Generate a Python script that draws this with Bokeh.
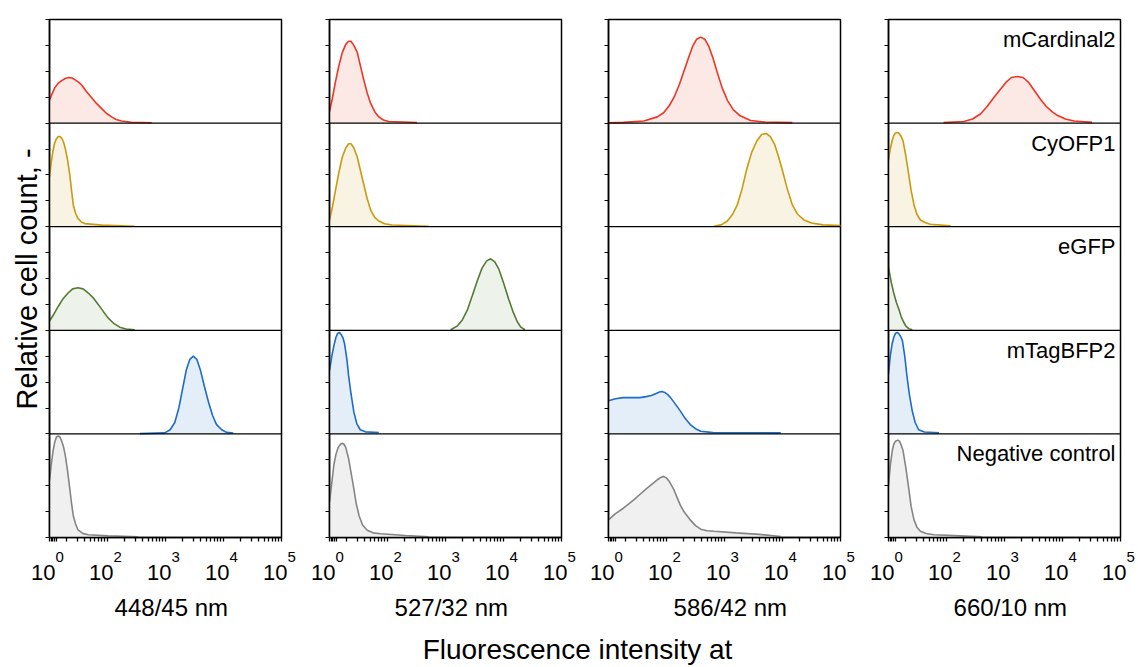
import math
from bokeh.plotting import figure
from bokeh.layouts import row, column
from bokeh.models import Range1d, FixedTicker, Span, Label
from bokeh.core.properties import value
from bokeh.embed import file_html
from bokeh.resources import INLINE

# ---------------- data ----------------
channels = ["448/45 nm", "527/32 nm", "586/42 nm", "660/10 nm"]
proteins = ["mCardinal2", "CyOFP1", "eGFP", "mTagBFP2", "Negative control"]
tick_positions = [0, 1, 2, 3, 4]
tick_exponents = ["0", "2", "3", "4", "5"]
x_title = "Fluorescence intensity at"
y_title = "Relative cell count, -"

line_colors = ["#ee3524", "#c99a0e", "#557a34", "#1c6cc8", "#858585"]
fill_colors = ["#fce8e5", "#f8f3e3", "#edf2ea", "#e4eef9", "#f0f0f0"]

# x: position on the display axis (0 = 10^0, 1 = 10^2, 2 = 10^3, 3 = 10^4, 4 = 10^5)
# y: height as a fraction of the row
mcardinal2_448_x = [0, 0.05, 0.09, 0.15, 0.21, 0.27, 0.33, 0.39, 0.45, 0.50, 0.55, 0.63, 0.72, 0.81, 0.90, 0.98, 1.07, 1.15, 1.24, 1.41, 1.76]
mcardinal2_448_y = [0.22, 0.29, 0.34, 0.385, 0.41, 0.43, 0.44, 0.435, 0.415, 0.395, 0.37, 0.31, 0.25, 0.19, 0.14, 0.095, 0.06, 0.035, 0.02, 0.008, 0.003]
cyofp1_448_x = [0, 0.03, 0.06, 0.09, 0.12, 0.15, 0.18, 0.21, 0.24, 0.27, 0.31, 0.35, 0.38, 0.41, 0.45, 0.49, 0.55, 0.61, 0.90, 1.47]
cyofp1_448_y = [0.48, 0.62, 0.73, 0.81, 0.85, 0.87, 0.87, 0.855, 0.82, 0.76, 0.65, 0.50, 0.35, 0.21, 0.13, 0.08, 0.045, 0.03, 0.015, 0.005]
egfp_448_x = [0, 0.08, 0.15, 0.24, 0.32, 0.40, 0.49, 0.58, 0.67, 0.76, 0.84, 0.93, 1.01, 1.10, 1.21, 1.32, 1.47]
egfp_448_y = [0.09, 0.16, 0.23, 0.31, 0.36, 0.40, 0.41, 0.40, 0.36, 0.31, 0.25, 0.18, 0.12, 0.07, 0.03, 0.012, 0.005]
mtagbfp2_448_x = [1.56, 1.99, 2.08, 2.16, 2.23, 2.30, 2.36, 2.42, 2.48, 2.54, 2.60, 2.67, 2.74, 2.81, 2.88, 2.97, 3.05, 3.17]
mtagbfp2_448_y = [0.003, 0.01, 0.04, 0.11, 0.25, 0.45, 0.62, 0.72, 0.75, 0.72, 0.62, 0.46, 0.31, 0.18, 0.09, 0.04, 0.015, 0.008]
negative_448_x = [0, 0.03, 0.06, 0.09, 0.12, 0.15, 0.18, 0.21, 0.24, 0.27, 0.31, 0.35, 0.38, 0.41, 0.45, 0.49, 0.57, 0.67, 1.01, 1.53]
negative_448_y = [0.55, 0.70, 0.83, 0.92, 0.97, 0.98, 0.97, 0.93, 0.88, 0.80, 0.65, 0.47, 0.33, 0.21, 0.13, 0.075, 0.04, 0.026, 0.016, 0.007]

mcardinal2_527_x = [0, 0.05, 0.10, 0.16, 0.22, 0.28, 0.33, 0.37, 0.42, 0.48, 0.53, 0.59, 0.65, 0.71, 0.78, 0.85, 0.93, 1.02, 1.51]
mcardinal2_527_y = [0.11, 0.24, 0.39, 0.55, 0.68, 0.76, 0.79, 0.79, 0.75, 0.68, 0.56, 0.42, 0.29, 0.19, 0.11, 0.06, 0.03, 0.016, 0.006]
cyofp1_527_x = [0, 0.05, 0.10, 0.16, 0.22, 0.28, 0.33, 0.37, 0.42, 0.48, 0.53, 0.59, 0.65, 0.71, 0.78, 0.85, 0.95, 1.08, 1.71]
cyofp1_527_y = [0.065, 0.19, 0.34, 0.52, 0.67, 0.76, 0.80, 0.80, 0.76, 0.67, 0.55, 0.41, 0.27, 0.16, 0.09, 0.055, 0.028, 0.016, 0.005]
egfp_527_x = [2.09, 2.20, 2.29, 2.38, 2.46, 2.55, 2.63, 2.71, 2.78, 2.85, 2.92, 3.00, 3.09, 3.17, 3.24, 3.30, 3.37]
egfp_527_y = [0.005, 0.04, 0.10, 0.20, 0.33, 0.48, 0.60, 0.67, 0.69, 0.66, 0.59, 0.46, 0.30, 0.17, 0.08, 0.03, 0.005]
mtagbfp2_527_x = [0, 0.04, 0.075, 0.11, 0.14, 0.17, 0.20, 0.23, 0.26, 0.30, 0.33, 0.37, 0.42, 0.47, 0.53, 0.62, 0.85]
mtagbfp2_527_y = [0.61, 0.75, 0.85, 0.93, 0.97, 0.98, 0.96, 0.93, 0.87, 0.72, 0.56, 0.39, 0.21, 0.10, 0.04, 0.02, 0.013]
negative_527_x = [0, 0.04, 0.075, 0.11, 0.15, 0.19, 0.22, 0.25, 0.28, 0.33, 0.37, 0.42, 0.46, 0.51, 0.57, 0.65, 0.75, 0.88, 1.31, 1.71]
negative_527_y = [0.34, 0.53, 0.70, 0.80, 0.87, 0.90, 0.91, 0.90, 0.87, 0.76, 0.63, 0.47, 0.33, 0.21, 0.12, 0.07, 0.045, 0.036, 0.02, 0.007]

mcardinal2_586_x = [0, 0.26, 0.61, 0.84, 0.95, 1.05, 1.13, 1.22, 1.30, 1.38, 1.45, 1.52, 1.59, 1.66, 1.73, 1.80, 1.88, 1.96, 2.05, 2.15, 2.27, 2.45, 2.70, 3.17]
mcardinal2_586_y = [0.003, 0.007, 0.02, 0.06, 0.10, 0.17, 0.25, 0.37, 0.50, 0.63, 0.74, 0.81, 0.83, 0.81, 0.74, 0.63, 0.48, 0.34, 0.22, 0.13, 0.07, 0.025, 0.01, 0.005]
cyofp1_586_x = [1.82, 1.95, 2.05, 2.14, 2.22, 2.30, 2.39, 2.47, 2.56, 2.64, 2.72, 2.79, 2.86, 2.93, 3.00, 3.08, 3.17, 3.26, 3.37, 3.50, 3.70, 4.00]
cyofp1_586_y = [0.005, 0.02, 0.055, 0.12, 0.21, 0.36, 0.57, 0.72, 0.83, 0.89, 0.90, 0.87, 0.80, 0.68, 0.54, 0.37, 0.21, 0.12, 0.065, 0.035, 0.018, 0.012]
mtagbfp2_586_x = [0, 0.12, 0.25, 0.40, 0.54, 0.65, 0.74, 0.82, 0.88, 0.92, 0.97, 1.02, 1.07, 1.15, 1.24, 1.32, 1.41, 1.50, 1.59, 1.80, 2.97]
mtagbfp2_586_y = [0.32, 0.34, 0.35, 0.35, 0.35, 0.36, 0.37, 0.39, 0.405, 0.41, 0.40, 0.38, 0.35, 0.29, 0.22, 0.15, 0.09, 0.05, 0.025, 0.012, 0.01]
negative_586_x = [0, 0.12, 0.25, 0.35, 0.45, 0.55, 0.65, 0.75, 0.85, 0.90, 0.95, 1.00, 1.05, 1.12, 1.18, 1.24, 1.30, 1.41, 1.50, 1.59, 1.70, 1.82, 2.20, 2.60, 2.97]
negative_586_y = [0.17, 0.23, 0.28, 0.325, 0.37, 0.42, 0.47, 0.515, 0.56, 0.58, 0.59, 0.575, 0.54, 0.47, 0.39, 0.31, 0.25, 0.17, 0.115, 0.08, 0.065, 0.06, 0.045, 0.03, 0.01]

mcardinal2_660_x = [0.95, 1.30, 1.45, 1.59, 1.70, 1.82, 1.92, 2.02, 2.12, 2.22, 2.32, 2.42, 2.52, 2.62, 2.72, 2.82, 2.91, 3.05, 3.20, 3.51]
mcardinal2_660_y = [0.005, 0.016, 0.04, 0.09, 0.16, 0.25, 0.32, 0.39, 0.44, 0.45, 0.44, 0.39, 0.31, 0.23, 0.16, 0.11, 0.075, 0.04, 0.02, 0.007]
cyofp1_660_x = [0, 0.03, 0.063, 0.09, 0.12, 0.16, 0.19, 0.22, 0.25, 0.30, 0.35, 0.39, 0.44, 0.49, 0.55, 0.63, 0.72, 1.07]
cyofp1_660_y = [0.64, 0.75, 0.83, 0.88, 0.905, 0.91, 0.895, 0.87, 0.83, 0.68, 0.50, 0.35, 0.21, 0.12, 0.065, 0.04, 0.023, 0.008]
egfp_660_x = [0, 0.045, 0.09, 0.135, 0.18, 0.22, 0.26, 0.30, 0.35, 0.41]
egfp_660_y = [0.61, 0.47, 0.36, 0.27, 0.20, 0.13, 0.08, 0.04, 0.016, 0.005]
mtagbfp2_660_x = [0, 0.03, 0.063, 0.09, 0.12, 0.15, 0.18, 0.21, 0.24, 0.28, 0.32, 0.36, 0.41, 0.46, 0.52, 0.62, 0.87]
mtagbfp2_660_y = [0.58, 0.75, 0.87, 0.93, 0.97, 0.98, 0.965, 0.94, 0.90, 0.75, 0.55, 0.38, 0.22, 0.11, 0.04, 0.018, 0.01]
negative_660_x = [0, 0.03, 0.063, 0.09, 0.12, 0.16, 0.19, 0.22, 0.25, 0.30, 0.35, 0.39, 0.44, 0.49, 0.55, 0.65, 0.78, 1.24, 1.61]
negative_660_y = [0.50, 0.69, 0.83, 0.90, 0.93, 0.94, 0.93, 0.89, 0.84, 0.67, 0.47, 0.30, 0.17, 0.10, 0.06, 0.038, 0.026, 0.016, 0.007]

curves = [
    [(mcardinal2_448_x, mcardinal2_448_y), (cyofp1_448_x, cyofp1_448_y), (egfp_448_x, egfp_448_y),
     (mtagbfp2_448_x, mtagbfp2_448_y), (negative_448_x, negative_448_y)],
    [(mcardinal2_527_x, mcardinal2_527_y), (cyofp1_527_x, cyofp1_527_y), (egfp_527_x, egfp_527_y),
     (mtagbfp2_527_x, mtagbfp2_527_y), (negative_527_x, negative_527_y)],
    [(mcardinal2_586_x, mcardinal2_586_y), (cyofp1_586_x, cyofp1_586_y), None,
     (mtagbfp2_586_x, mtagbfp2_586_y), (negative_586_x, negative_586_y)],
    [(mcardinal2_660_x, mcardinal2_660_y), (cyofp1_660_x, cyofp1_660_y), (egfp_660_x, egfp_660_y),
     (mtagbfp2_660_x, mtagbfp2_660_y), (negative_660_x, negative_660_y)],
]

# ---------------- layout / style ----------------
FONT = "Liberation Sans"
YSTRIP_W = 42
strip_widths = [305, 279, 280, 274]
border_left = [49, 24, 24, 24]
border_right = [24, 23, 24, 18]
FRAME_W = 232
PX_PER_UNIT = FRAME_W / 4.0
MAIN_H = 545
BORDER_TOP = 19
BORDER_BOTTOM = 8
FRAME_H = MAIN_H - BORDER_TOP - BORDER_BOTTOM
LABEL_H = 80
BOTTOM_H = 667 - MAIN_H - LABEL_H

minor = [0, 0.03, 0.06, 0.09, 0.12]
minor += [math.log10(k) for k in range(2, 10)]
for d in (1, 2, 3):
    minor += [d] + [d + math.log10(k) for k in range(2, 10)]
minor += [4]

n_rows = len(proteins)


def bare(width, height, xr, yr):
    f = figure(width=width, height=height, output_backend="svg", toolbar_location=None,
               title=None, x_range=xr, y_range=yr, x_axis_type=None, y_axis_type=None,
               min_border=0, min_border_left=0, min_border_right=0,
               min_border_top=0, min_border_bottom=0)
    f.outline_line_color = None
    f.grid.visible = False
    f.background_fill_color = "white"
    f.border_fill_color = "white"
    return f


figs = []
strips = []
for ci, ch in enumerate(channels):
    bl = border_left[ci] - (YSTRIP_W if ci == 0 else 0)
    fw = strip_widths[ci] - (YSTRIP_W if ci == 0 else 0)
    p = figure(width=fw, height=MAIN_H, output_backend="svg", toolbar_location=None, title=None,
               x_range=Range1d(0, 4), y_range=Range1d(0, n_rows),
               min_border_left=bl, min_border_right=border_right[ci],
               min_border_top=BORDER_TOP, min_border_bottom=BORDER_BOTTOM)
    p.grid.visible = False
    p.outline_line_color = "black"
    p.outline_line_width = 1.5
    p.background_fill_color = "white"
    p.border_fill_color = "white"

    xa = p.xaxis[0]
    xa.ticker = FixedTicker(ticks=[], minor_ticks=minor)
    xa.minor_tick_out = 4
    xa.minor_tick_in = 0
    xa.major_tick_out = 0
    xa.major_tick_in = 0
    xa.minor_tick_line_width = 1.3
    xa.axis_line_width = 1.5
    xa.major_label_standoff = 0

    ya = p.yaxis[0]
    ya.ticker = FixedTicker(ticks=[], minor_ticks=[i * 0.25 for i in range(4 * n_rows + 1)])
    ya.minor_tick_out = 4
    ya.minor_tick_in = 0
    ya.major_tick_out = 0
    ya.major_tick_in = 0
    ya.minor_tick_line_width = 1.2
    ya.axis_line_width = 1.5
    ya.major_label_standoff = 0

    for k in range(1, n_rows):
        p.add_layout(Span(location=k, dimension="width", line_color="black", line_width=1.3))

    for ri in range(n_rows):
        c = curves[ci][ri]
        if c is None:
            continue
        xs, hs = c
        base = n_rows - 1 - ri
        top = [base + h for h in hs]
        bot = [base] * len(xs)
        p.varea(x=xs, y1=bot, y2=top, fill_color=fill_colors[ri], fill_alpha=1.0)
        p.line(x=xs, y=top, line_color=line_colors[ri], line_width=1.6)

    if ci == len(channels) - 1:
        for ri, name in enumerate(proteins):
            p.add_layout(Label(x=4, y=n_rows - ri - 20 / (FRAME_H / n_rows), x_offset=-5, text=name,
                               text_align="right", text_baseline="alphabetic", text_font=FONT,
                               text_font_size="22px", text_color="black"))
    figs.append(p)

    # strip below each column holding the tick labels and channel title (same x scale)
    s = bare(strip_widths[ci], LABEL_H,
             Range1d(-border_left[ci] / PX_PER_UNIT, 4 + border_right[ci] / PX_PER_UNIT),
             Range1d(-LABEL_H, 0))
    s.text(x=tick_positions, y=[-27] * len(tick_positions), text=["10"] * len(tick_positions),
           x_offset=6, text_align="right", text_baseline="alphabetic",
           text_font=value(FONT), text_font_size=value("22px"), text_color="black")
    s.text(x=tick_positions, y=[-11] * len(tick_positions), text=tick_exponents,
           x_offset=6, text_align="left", text_baseline="alphabetic",
           text_font=value(FONT), text_font_size=value("15px"), text_color="black")
    s.text(x=[2.1], y=[-62], text=[ch], text_align="center", text_baseline="alphabetic",
           text_font=value(FONT), text_font_size=value("24px"), text_color="black")
    strips.append(s)

ystrip = bare(YSTRIP_W, MAIN_H, Range1d(0, YSTRIP_W), Range1d(-MAIN_H, 0))
ystrip.text(x=[26], y=[-273], text=[y_title], angle=math.pi / 2, text_align="center",
            text_baseline="middle", text_font=value(FONT), text_font_size=value("29px"),
            text_color="black")

bottom = bare(1138, BOTTOM_H, Range1d(0, 1138), Range1d(-BOTTOM_H, 0))
bottom.text(x=[577], y=[-24], text=[x_title], text_align="center", text_baseline="alphabetic",
            text_font=value(FONT), text_font_size=value("28px"), text_color="black")

layout = column(row(ystrip, *figs, spacing=0), row(*strips, spacing=0), bottom, spacing=0)
open("out.html", "w").write(file_html(layout, INLINE))
